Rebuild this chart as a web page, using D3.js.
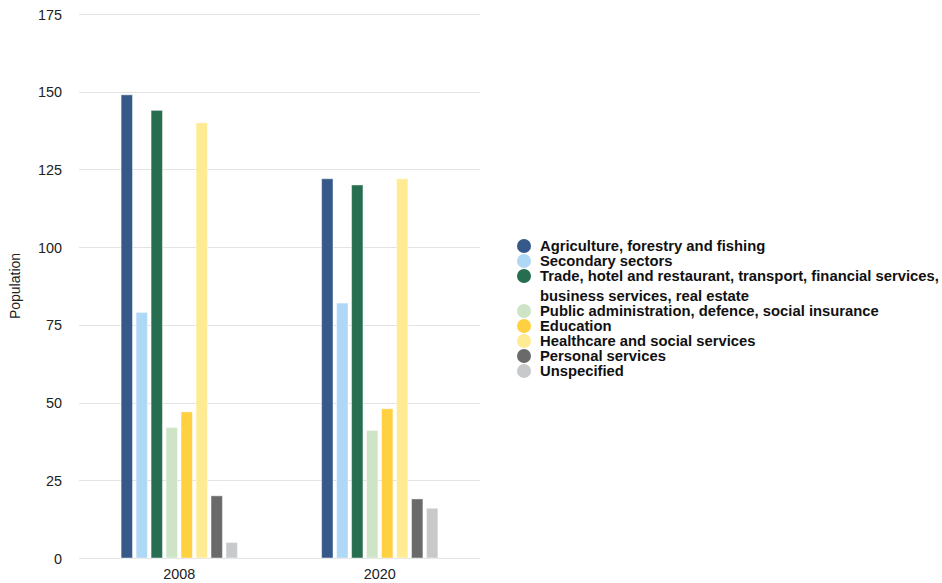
<!DOCTYPE html>
<html>
<head>
<meta charset="utf-8">
<script src="https://cdn.jsdelivr.net/npm/d3@7"></script>
<style>
  body { margin: 0; background: #fff; }
  svg { display: block; font-family: "Liberation Sans", Arial, sans-serif; }
</style>
</head>
<body>
<svg id="chart" width="942" height="583"></svg>
<script>
// Employment by sector, population counts per year
const years = ["2008", "2020"];
const sectors = [
  "Agriculture, forestry and fishing",
  "Secondary sectors",
  "Trade, hotel and restaurant, transport, financial services, business services, real estate",
  "Public administration, defence, social insurance",
  "Education",
  "Healthcare and social services",
  "Personal services",
  "Unspecified"
];
const legendLines = [
  ["Agriculture, forestry and fishing"],
  ["Secondary sectors"],
  ["Trade, hotel and restaurant, transport, financial services,", "business services, real estate"],
  ["Public administration, defence, social insurance"],
  ["Education"],
  ["Healthcare and social services"],
  ["Personal services"],
  ["Unspecified"]
];
const values2008 = [149, 79, 144, 42, 47, 140, 20, 5];
const values2020 = [122, 82, 120, 41, 48, 122, 19, 16];
const yTicks = [0, 25, 50, 75, 100, 125, 150, 175];
const colors = ["#36598a", "#aed8f5", "#276e50", "#cde4c6", "#ffd040", "#ffeb94", "#6a6a6a", "#c8c9cb"];

const seriesByYear = { "2008": values2008, "2020": values2020 };

const svg = d3.select("#chart");
const margin = { left: 79, right: 462, top: 14, bottom: 25 };
const width = 942, height = 583;
const plotRight = width - margin.right;
const plotBottom = height - margin.bottom;

const y = d3.scaleLinear().domain([0, 175]).range([plotBottom, margin.top]);
const x0 = d3.scaleBand().domain(years).range([margin.left, plotRight]).paddingInner(0.42).paddingOuter(0.21);
const x1 = d3.scaleBand().domain(d3.range(sectors.length)).range([0, x0.bandwidth()]).paddingInner(0.24);

// gridlines
svg.append("g")
  .selectAll("line")
  .data(yTicks)
  .join("line")
  .attr("x1", margin.left).attr("x2", plotRight)
  .attr("y1", d => Math.round(y(d)) + 0.5).attr("y2", d => Math.round(y(d)) + 0.5)
  .attr("stroke", "#e3e3e3").attr("stroke-width", 1);

// y axis labels
const yAxis = d3.axisLeft(y).tickValues(yTicks).tickSize(0).tickPadding(0);
const yg = svg.append("g").attr("transform", `translate(${margin.left - 17},0)`).call(yAxis);
yg.select(".domain").remove();
yg.selectAll("text").attr("font-size", 14.4).attr("fill", "#222").attr("font-family", "Liberation Sans, Arial, sans-serif").attr("dy", "0.35em");

// y axis title
svg.append("text")
  .attr("transform", `translate(20,${(margin.top + plotBottom) / 2}) rotate(-90)`)
  .attr("text-anchor", "middle")
  .attr("font-size", 14)
  .attr("fill", "#222")
  .text("Population");

// x axis labels
const xAxis = d3.axisBottom(x0).tickSize(0).tickPadding(0);
const xg = svg.append("g").attr("transform", `translate(0,${plotBottom + 11})`).call(xAxis);
xg.select(".domain").remove();
xg.selectAll("text").attr("font-size", 14.4).attr("fill", "#222").attr("font-family", "Liberation Sans, Arial, sans-serif").attr("dy", "0.71em");

// bars
const groups = svg.append("g")
  .selectAll("g")
  .data(years)
  .join("g")
  .attr("transform", d => `translate(${x0(d)},0)`);

groups.selectAll("rect")
  .data(yr => seriesByYear[yr].map((v, i) => ({ i, v })))
  .join("rect")
  .attr("x", d => x1(d.i))
  .attr("width", x1.bandwidth())
  .attr("y", d => y(d.v))
  .attr("height", d => plotBottom - y(d.v))
  .attr("fill", d => colors[d.i])
  .attr("stroke", "#ffffff")
  .attr("stroke-opacity", 0.45)
  .attr("stroke-width", 1);

// legend
const legend = svg.append("g").attr("transform", "translate(524,0)");
let ly = 246;
legendLines.forEach((lines, i) => {
  const row = legend.append("g");
  row.append("circle").attr("cx", 0).attr("cy", ly).attr("r", 7).attr("fill", colors[i]);
  lines.forEach((t, k) => {
    row.append("text")
      .attr("x", 16)
      .attr("y", ly + k * 20)
      .attr("dy", "0.35em")
      .attr("font-size", 14.8)
      .attr("font-weight", "bold")
      .attr("fill", "#111")
      .text(t);
  });
  ly += 15 + (lines.length - 1) * 20;
});
</script>
</body>
</html>
